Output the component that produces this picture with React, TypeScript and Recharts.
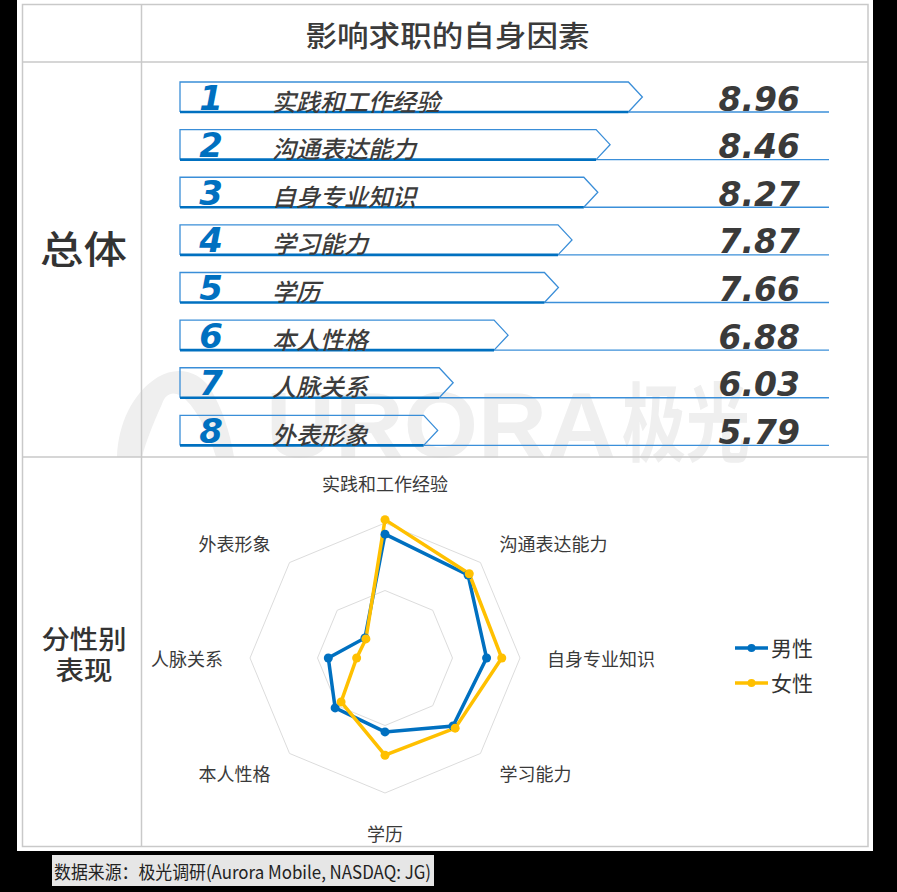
import React from 'react';
import {
  BarChart,
  Bar,
  XAxis,
  YAxis,
  RadarChart,
  Radar,
  PolarGrid,
  PolarAngleAxis,
  PolarRadiusAxis,
  Legend,
} from 'recharts';

// ---------- data ----------
const ranks = [1, 2, 3, 4, 5, 6, 7, 8];
const factors = ['实践和工作经验', '沟通表达能力', '自身专业知识', '学习能力', '学历', '本人性格', '人脉关系', '外表形象'];
const overallScores = [8.96, 8.46, 8.27, 7.87, 7.66, 6.88, 6.03, 5.79];
const maleScores = [8.67, 8.48, 8.01, 7.85, 7.19, 7.09, 6.68, 5.84];
const femaleScores = [9.1, 8.53, 8.46, 7.94, 7.88, 6.84, 5.84, 5.8];
const seriesNames = ['男性', '女性'];
const titleText = '影响求职的自身因素';
const sectionOverall = '总体';
const sectionGender = ['分性别', '表现'];
const sourceText = '数据来源：极光调研(Aurora Mobile, NASDAQ: JG)';

const barData = factors.map((f, i) => ({ rank: ranks[i], name: f, value: overallScores[i] }));
const radarData = factors.map((f, i) => ({ factor: f, male: maleScores[i], female: femaleScores[i] }));

// ---------- styling ----------
const CJK = "'Noto Sans CJK SC', 'Noto Sans', sans-serif";
const NUM = "'DejaVu Sans', Verdana, sans-serif";
const BLUE = '#0070c0';
const YELLOW = '#ffc000';
const GRID = '#c9c9c9';
const WATERMARK = '#efefef';

const BAR_W = 726;
const BAR_H = 395;
const BAR_MARGIN = { top: 11, right: 39, bottom: 3, left: 38 };
const LINE_END = BAR_W - BAR_MARGIN.right;
const VALUE_RIGHT = 658;

const RADAR_CX = 243;
const RADAR_CY = 200;

const ArrowShape = (props: any) => {
  const { x, y, width, height, payload } = props;
  const notch = 14;
  const right = x + width;
  const bottom = y + height;
  return (
    <g>
      <line x1={right - notch} y1={bottom} x2={LINE_END} y2={bottom} stroke="#3b8fd9" strokeWidth={1.4} />
      <path
        d={`M${x},${bottom} L${x},${y} L${right - notch},${y} L${right},${y + height / 2} L${right - notch},${bottom}`}
        fill="none"
        stroke="#3a8ed8"
        strokeWidth={1.3}
      />
      <line x1={x} y1={bottom} x2={right - notch} y2={bottom} stroke={BLUE} strokeWidth={2.6} />
      <text
        x={x + 31}
        y={bottom - 2.5}
        textAnchor="middle"
        fontFamily={NUM}
        fontWeight="bold"
        fontStyle="italic"
        fontSize={34}
        fill={BLUE}
      >
        {payload.rank}
      </text>
      <text
        x={x + 92}
        y={y + height / 2 + 3}
        dominantBaseline="central"
        fontFamily={CJK}
        fontStyle="italic"
        fontWeight={500}
        fontSize={24}
        fill="#3c3c3c"
      >
        {payload.name}
      </text>
      <text
        x={VALUE_RIGHT}
        y={bottom - 1.5}
        textAnchor="end"
        fontFamily={NUM}
        fontWeight="bold"
        fontStyle="italic"
        fontSize={33}
        fill="#3a3a3a"
      >
        {Number(payload.value).toFixed(2)}
      </text>
    </g>
  );
};

const renderAngleTick = (props: any) => {
  const { x, y, payload, textAnchor } = props;
  let dy = 0;
  if (textAnchor === 'middle') dy = y < RADAR_CY ? -13 : 13;
  return (
    <text
      x={x}
      y={y + dy}
      textAnchor={textAnchor}
      dominantBaseline="central"
      fontFamily={CJK}
      fontSize={18}
      fill="#3a3a3a"
    >
      {payload.value}
    </text>
  );
};

const makeDot = (color: string) => (p: any) => (
  <circle key={`dot-${p.index}`} cx={p.cx} cy={p.cy} r={4.5} fill={color} stroke="none" />
);

const renderLegend = (props: any) => {
  const items = [...(props.payload || [])].sort(
    (a: any, b: any) => seriesNames.indexOf(a.value) - seriesNames.indexOf(b.value)
  );
  return (
    <div style={{ display: 'flex', flexDirection: 'column' }}>
      {items.map((entry: any) => (
        <div key={entry.value} style={{ height: 35, display: 'flex', alignItems: 'center' }}>
          <svg width={33} height={12}>
            <line x1={0} y1={6} x2={33} y2={6} stroke={entry.color} strokeWidth={3.5} />
            <circle cx={16.5} cy={6} r={4} fill={entry.color} />
          </svg>
          <span style={{ marginLeft: 3, fontSize: 21, color: '#333', fontFamily: CJK, lineHeight: '35px' }}>
            {entry.value}
          </span>
        </div>
      ))}
    </div>
  );
};

export default function App() {
  return (
    <div style={{ position: 'absolute', left: 0, top: 0, width: 897, height: 892, background: '#000', overflow: 'hidden' }}>
      <svg width={897} height={892} style={{ position: 'absolute', left: 0, top: 0 }}>
        <rect x={17} y={0} width={856} height={851} fill="#fff" />
        {/* watermark */}
        <g fill={WATERMARK}>
          <path d="M117,457 C118,425 132,393 158,377 C176,366 198,370 210,388 C222,408 230,432 234,457 L216,457 C208,432 198,412 186,400 C176,390 166,392 162,404 C152,426 146,442 142,457 Z" />
          <text x={266} y={457} fontFamily="'Liberation Sans', Arial, sans-serif" fontWeight="bold" fontSize={92} textLength={350} lengthAdjust="spacingAndGlyphs">
            URORA
          </text>
          <text x={622} y={455} fontFamily={CJK} fontWeight="bold" fontSize={86} textLength={128} lengthAdjust="spacingAndGlyphs">
            极光
          </text>
        </g>
        <rect x={22.5} y={4.5} width={845.5} height={842} fill="none" stroke={GRID} strokeWidth={1.5} />
        <line x1={22.5} y1={62} x2={868} y2={62} stroke={GRID} strokeWidth={1.5} />
        <line x1={141.5} y1={4.5} x2={141.5} y2={846.5} stroke={GRID} strokeWidth={1.5} />
        <line x1={22.5} y1={457} x2={868} y2={457} stroke={GRID} strokeWidth={1.5} />
        <text x={447.5} y={34} textAnchor="middle" dominantBaseline="central" fontFamily={CJK} fontWeight={500} fontSize={29} textLength={284} lengthAdjust="spacingAndGlyphs" fill="#3b3b3b">
          {titleText}
        </text>
        <text x={83.5} y={246} textAnchor="middle" dominantBaseline="central" fontFamily={CJK} fontWeight={500} fontSize={38} textLength={87} lengthAdjust="spacingAndGlyphs" fill="#333">
          {sectionOverall}
        </text>
        <text x={84} y={637} textAnchor="middle" dominantBaseline="central" fontFamily={CJK} fontWeight={500} fontSize={26} textLength={85} lengthAdjust="spacingAndGlyphs" fill="#333">
          {sectionGender[0]}
        </text>
        <text x={84} y={668} textAnchor="middle" dominantBaseline="central" fontFamily={CJK} fontWeight={500} fontSize={26} textLength={57} lengthAdjust="spacingAndGlyphs" fill="#333">
          {sectionGender[1]}
        </text>
        <rect x={52} y={855} width={382} height={31} fill="#e6e6e6" />
        <text x={54} y={871} dominantBaseline="central" fontFamily={CJK} fontSize={18} textLength={377} lengthAdjust="spacingAndGlyphs" fill="#222">
          {sourceText}
        </text>
      </svg>

      <div style={{ position: 'absolute', left: 142, top: 62, width: BAR_W, height: BAR_H }}>
        <BarChart width={BAR_W} height={BAR_H} data={barData} layout="vertical" margin={BAR_MARGIN}>
          <XAxis type="number" domain={[1.8, 11.85]} hide />
          <YAxis type="category" dataKey="name" hide />
          <Bar dataKey="value" barSize={30} shape={ArrowShape} isAnimationActive={false} />
        </BarChart>
      </div>

      <div style={{ position: 'absolute', left: 142, top: 458, width: 726, height: 388 }}>
        <RadarChart
          width={726}
          height={388}
          data={radarData}
          cx={RADAR_CX}
          cy={RADAR_CY}
          outerRadius={135}
          margin={{ top: 0, right: 0, bottom: 0, left: 0 }}
        >
          <PolarGrid gridType="polygon" radialLines={false} stroke="#dcdcdc" />
          <PolarAngleAxis dataKey="factor" tick={renderAngleTick} tickLine={false} axisLine={false} tickSize={27} />
          <PolarRadiusAxis domain={[5, 9]} tickCount={3} allowDataOverflow tick={false} axisLine={false} angle={90} />
          <Radar
            dataKey="male"
            name={seriesNames[0]}
            stroke={BLUE}
            strokeWidth={3.5}
            fill="none"
            fillOpacity={0}
            dot={makeDot(BLUE)}
            isAnimationActive={false}
          />
          <Radar
            dataKey="female"
            name={seriesNames[1]}
            stroke={YELLOW}
            strokeWidth={3.5}
            fill="none"
            fillOpacity={0}
            dot={makeDot(YELLOW)}
            isAnimationActive={false}
          />
          <Legend
            content={renderLegend}
            layout="vertical"
            verticalAlign="top"
            align="left"
            wrapperStyle={{ left: 593, top: 172, width: 130 }}
          />
        </RadarChart>
      </div>
    </div>
  );
}
